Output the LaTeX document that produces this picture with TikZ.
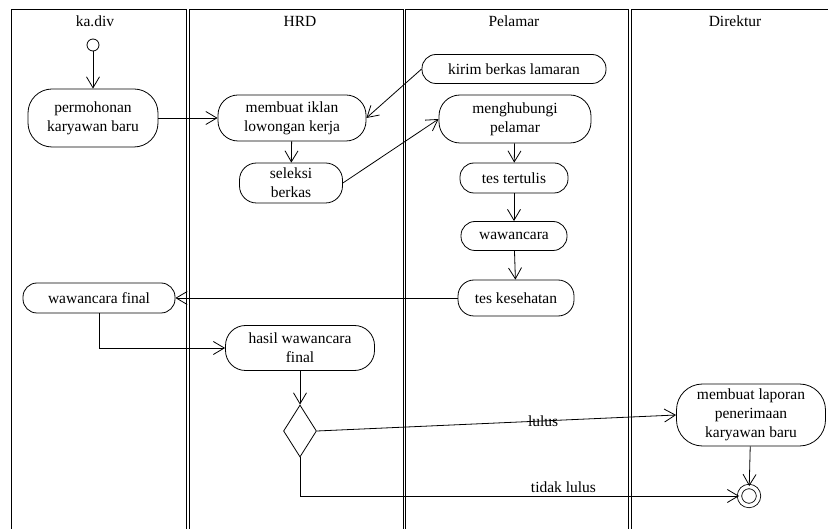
\documentclass[tikz,border=0pt]{standalone}
\usepackage{fontspec}
\setmainfont{Liberation Serif}
\newfontfamily\diagfont{Liberation Serif}
\usetikzlibrary{arrows.meta,shapes.geometric}

\tikzset{
  act/.style={draw=black, rounded corners=#1, align=center, inner sep=1pt},
  act/.default=14pt,
  lane/.style={draw=black, line width=1pt},
}

\begin{document}
\begin{tikzpicture}[x=1pt, y=-1pt, line width=0.8pt,
  font=\diagfont\fontsize{15.5}{19}\selectfont,
  >={Straight Barb[length=11pt,width=13pt]}]
	\useasboundingbox (0,0) rectangle (828,529);

	% swimlanes
	\draw[lane] (11,10) rectangle (186,540);
	\draw[lane] (189,10) rectangle (403,540);
	\draw[lane] (405,10) rectangle (628,540);
	\draw[lane] (631,10) rectangle (845,540);

	\node (kadiv)    at (95, 21)  {ka.div};
	\node (hrd)      at (300, 21) {HRD};
	\node (pelamar)  at (514, 21) {Pelamar};
	\node (direktur) at (735, 21) {Direktur};

	\node[shape=circle,draw=black,minimum size=12pt,inner sep=0pt] (start) at (93, 45) {};
	\node[act=24pt, minimum width=130pt, minimum height=58pt] (perm)    at (93, 118)  {permohonan\\karyawan baru};
	\node[act=20pt, minimum width=148pt, minimum height=46pt] (iklan)   at (292, 118) {membuat iklan\\lowongan kerja};
	\node[act=17pt, minimum width=103pt, minimum height=40pt] (seleksi) at (291, 183) {seleksi\\berkas};
	\node[act, minimum width=184pt, minimum height=29pt]      (kirim)   at (514, 69)  {kirim berkas lamaran};
	\node[act=21pt, minimum width=152pt, minimum height=48pt] (hubungi) at (515, 119) {menghubungi\\pelamar};
	\node[act, minimum width=108pt, minimum height=30pt]      (tertulis) at (514, 178) {tes tertulis};
	\node[act, minimum width=106pt, minimum height=29pt]      (wawan)   at (514, 236) {wawancara};
	\node[act=16pt, minimum width=116pt, minimum height=36pt] (sehat)   at (516, 298) {tes kesehatan};
	\node[act, minimum width=152pt, minimum height=30pt]      (wfinal)  at (99, 298)  {wawancara final};
	\node[act=20pt, minimum width=149pt, minimum height=45pt] (hasil)   at (300, 348) {hasil wawancara\\final};
	\node[shape=diamond,draw=black,minimum width=33pt,minimum height=52pt,inner sep=0pt] (cek) at (300, 431) {};
	\node[act=26pt, minimum width=149pt, minimum height=62pt] (laporan) at (751, 415) {membuat laporan\\penerimaan\\karyawan baru};
	\node[shape=circle,draw=black,double,double distance=3.5pt,minimum size=19pt,inner sep=0pt] (stop) at (749, 496) {};

	\path[->] (start) edge (perm);
	\path[->] (perm) edge (iklan);
	\path[->] (kirim.west) edge (iklan.east);
	\path[->] (iklan) edge (seleksi);
	\path[->] (seleksi.east) edge (hubungi.west);
	\path[->] (hubungi) edge (tertulis);
	\path[->] (tertulis) edge (wawan);
	\path[->] (wawan) edge (sehat);
	\path[->] (sehat) edge (wfinal);
	\draw[->] (wfinal.south) |- (hasil.west);
	\path[->] (hasil) edge (cek);
	\path[->] (cek.east) edge node[pos=0.63] {lulus} (laporan.west);
	\draw[->] (cek.south) |- node[pos=0.8, above] {tidak lulus} (stop.west);
	\path[->] (laporan) edge (stop);
\end{tikzpicture}
\end{document}
